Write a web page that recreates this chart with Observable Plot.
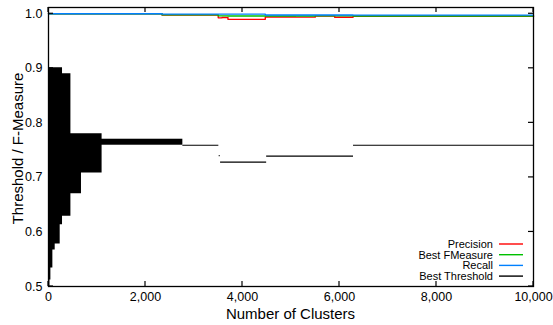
<!DOCTYPE html>
<html>
<head>
<meta charset="utf-8">
<script src="https://cdn.jsdelivr.net/npm/d3@7"></script>
<script src="https://cdn.jsdelivr.net/npm/@observablehq/plot@0.6"></script>
<style>
  html, body { margin: 0; padding: 0; background: #fff; }
  #chart svg { display: block; }
</style>
</head>
<body>
<div id="chart"></div>
<script>
// ---- Data ----
const xTicks = [0, 2000, 4000, 6000, 8000, 10000];
const yTicks = [0.5, 0.6, 0.7, 0.8, 0.9, 1.0];

// Precision (red)
const precisionX = [0, 2340, 3500, 3580, 3700, 4470, 5100, 5500, 5900, 6280, 10000];
const precisionY = [1.0, 0.9978, 0.9925, 0.9932, 0.9898, 0.9942, 0.9938, 0.9958, 0.9935, 0.9955, 0.9952];
// Best FMeasure (green)
const fmeasureX = [0, 2340, 3500, 3700, 4470, 5500, 6280, 10000];
const fmeasureY = [1.0, 0.998, 0.9962, 0.9958, 0.9958, 0.9962, 0.996, 0.996];
// Recall (blue)
const recallX = [0, 2340, 4470, 6280, 10000];
const recallY = [1.0, 0.9994, 0.9978, 0.9975, 0.9975];

// Best Threshold (black): envelope of the dense zig-zag at low cluster counts
// (threshold level where each step starts, and furthest cluster count reached)
const envThreshold = [0.500, 0.512, 0.534, 0.567, 0.578, 0.613, 0.629, 0.670, 0.708, 0.780, 0.890, 0.901];
const envMaxX      = [29, 49, 90, 138, 241, 289, 462, 680, 1105, 462, 289, 289];
// Thin spike of the zig-zag
const spikeLo = [0.759], spikeHi = [0.770], spikeMaxX = [2770];
// Best Threshold tail segments
const segX1 = [2770, 3520, 3548, 4498, 6289];
const segX2 = [3512, 3540, 4498, 6289, 10000];
const segY  = [0.759, 0.740, 0.728, 0.739, 0.759];

const seriesNames  = ["Precision", "Best FMeasure", "Recall", "Best Threshold"];
const seriesColors = ["#ff0000", "#00c000", "#0080ff", "#000000"];

// ---- Build tables ----
const mk = (xs, ys) => xs.map((x, i) => ({x, y: ys[i]}));
const precision = mk(precisionX, precisionY);
const fmeasure = mk(fmeasureX, fmeasureY);
const recall = mk(recallX, recallY);
// each step's extent applies from its threshold up to the next one
const envelope = envThreshold.map((t, i) => ({t, x0: 0, x: envMaxX[i]}));
const spikes = spikeLo.map((lo, i) => ({x1: 0, x2: spikeMaxX[i], lo, hi: spikeHi[i]}));
const segs = segY.map((y, i) => ({x1: segX1[i], x2: segX2[i], y}));

const FONT = "'Liberation Sans', Arial, sans-serif";
const W = 553, H = 325;
const chart = Plot.plot({
  width: W, height: H,
  marginLeft: 48, marginRight: 20, marginTop: 7, marginBottom: 39,
  style: {fontFamily: FONT, fontSize: "12.5px", color: "#000", background: "#fff"},
  x: {domain: [0, 10000]},
  y: {domain: [0.5, 1.0115]},
  marks: [
    Plot.areaX(envelope, {y: "t", x1: "x0", x2: "x", curve: "step-before", fill: seriesColors[3]}),
    Plot.rect(spikes, {x1: "x1", x2: "x2", y1: "lo", y2: "hi", fill: seriesColors[3]}),
    Plot.ruleY(segs, {y: "y", x1: "x1", x2: "x2", stroke: seriesColors[3], strokeWidth: 1.2}),
    Plot.line(precision, {x: "x", y: "y", stroke: seriesColors[0], strokeWidth: 1.4, curve: "step-after"}),
    Plot.line(fmeasure, {x: "x", y: "y", stroke: seriesColors[1], strokeWidth: 1.4, curve: "step-after"}),
    Plot.line(recall, {x: "x", y: "y", stroke: seriesColors[2], strokeWidth: 1.4, curve: "step-after"}),
    Plot.axisX({ticks: xTicks, tickSize: 0, tickPadding: 6, tickFormat: d3.format(","), label: null, fontSize: 12.5}),
    Plot.axisY({ticks: yTicks, tickSize: 0, tickPadding: 6, tickFormat: d3.format(".1f"), label: null, fontSize: 12.5}),
    Plot.frame({stroke: "#000", strokeWidth: 1.3})
  ]
});
document.getElementById("chart").appendChild(chart);

// ---- Inward ticks on all four sides, titles, legend ----
const svg = d3.select(chart);
const sx = chart.scale("x"), sy = chart.scale("y");
const L = sx.apply(0), R = sx.apply(10000), T = sy.apply(1.0115), B = sy.apply(0.5);
const g = svg.append("g").attr("stroke", "#000").attr("stroke-width", 1.2);
yTicks.forEach(v => {
  const y = sy.apply(v);
  g.append("line").attr("x1", L).attr("x2", L + 5).attr("y1", y).attr("y2", y);
  g.append("line").attr("x1", R).attr("x2", R - 5).attr("y1", y).attr("y2", y);
});
xTicks.forEach(v => {
  const x = sx.apply(v);
  g.append("line").attr("x1", x).attr("x2", x).attr("y1", B).attr("y2", B - 5);
  g.append("line").attr("x1", x).attr("x2", x).attr("y1", T).attr("y2", T + 5);
});

svg.append("text")
  .attr("x", (L + R) / 2).attr("y", 319)
  .attr("text-anchor", "middle")
  .attr("font-size", 15).attr("font-family", FONT)
  .text("Number of Clusters");
svg.append("text")
  .attr("transform", `translate(23,${(T + B) / 2 + 2}) rotate(-90)`)
  .attr("text-anchor", "middle")
  .attr("font-size", 15).attr("font-family", FONT)
  .text("Threshold / F-Measure");

const leg = svg.append("g").attr("font-family", FONT).attr("font-size", 11);
const legY = [244, 254.7, 265.4, 276.1];
seriesNames.forEach((name, i) => {
  leg.append("text").attr("x", 493).attr("y", legY[i]).attr("dy", "0.35em")
    .attr("text-anchor", "end").text(name);
  leg.append("line").attr("x1", 499).attr("x2", 523).attr("y1", legY[i]).attr("y2", legY[i])
    .attr("stroke", seriesColors[i]).attr("stroke-width", 1.4);
});
</script>
</body>
</html>
